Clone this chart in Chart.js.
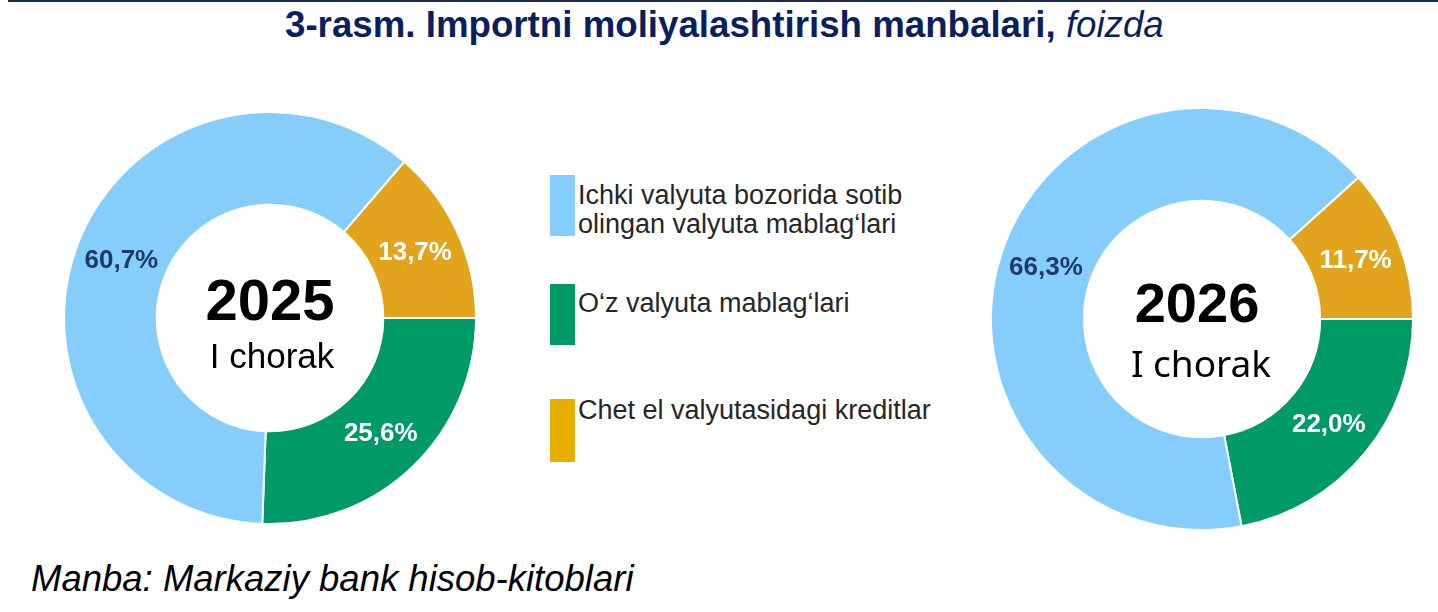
<!DOCTYPE html>
<html>
<head>
<meta charset="utf-8">
<script src="https://cdn.jsdelivr.net/npm/chart.js@4.4.1/dist/chart.umd.min.js"></script>
<style>
    html, body { margin: 0; padding: 0; background: #fff; }
    body { width: 1438px; height: 612px; position: relative; overflow: hidden; font-family: "Liberation Sans", Arial, sans-serif; }
    .top-rule { position: absolute; left: 8px; right: 0; top: 0; height: 2px; background: #1c2b4a; }
    .title { position: absolute; left: 285px; top: 6px; font-size: 36.7px; line-height: 37px; font-weight: bold; color: #0b1f5e; white-space: nowrap; }
    .title i { font-weight: normal; }
    .source { position: absolute; left: 31px; top: 560px; font-size: 36.5px; line-height: 37px; font-style: italic; color: #000; white-space: nowrap; }
    canvas { position: absolute; }
    .legend-item { position: absolute; left: 550px; }
    .legend-box { position: absolute; left: 0; top: 0; width: 25px; }
    .legend-text { position: absolute; left: 28px; width: 390px; font-size: 27px; line-height: 29px; color: #262626; }
</style>
</head>
<body>
<div class="top-rule"></div>
<div class="title">3-rasm. Importni moliyalashtirish manbalari, <i>foizda</i></div>
<canvas id="chart-2025" width="420" height="420" style="left:60px; top:108px;"></canvas>
<canvas id="chart-2026" width="430" height="430" style="left:987px; top:104px;"></canvas>
<div id="legend"></div>
<div class="source">Manba: Markaziy bank hisob-kitoblari</div>

<script>
// segments in drawing order (clockwise from 3 o'clock)
const segmentLabels = [
    "O‘z valyuta mablag‘lari",
    "Ichki valyuta bozorida sotib olingan valyuta mablag‘lari",
    "Chet el valyutasidagi kreditlar"
];
const values2025 = [25.6, 60.7, 13.7];
const values2026 = [22.0, 66.3, 11.7];
const periodLabel = "I chorak";

// legend shows the blue one first
const legendOrder = [1, 0, 2];

const sliceColors = ['#009968', '#85cefc', '#e2a41c'];
const legendColors = ['#009966', '#85cdfd', '#e6ae00'];
const labelColors = ['#ffffff', '#1f3a64', '#ffffff'];

// legend boxes: [top, height] and text top, per legend row
const legendRows = [
    { boxTop: 175, boxH: 61, textTop: 181 },
    { boxTop: 284, boxH: 61, textTop: 289 },
    { boxTop: 399, boxH: 63, textTop: 396 }
];

function buildLegend() {
    const legend = document.getElementById('legend');
    legendOrder.forEach((idx, row) => {
        const r = legendRows[row];
        const item = document.createElement('div');
        item.className = 'legend-item';
        item.style.top = r.boxTop + 'px';
        const box = document.createElement('div');
        box.className = 'legend-box';
        box.style.height = r.boxH + 'px';
        box.style.background = legendColors[idx];
        const text = document.createElement('div');
        text.className = 'legend-text';
        text.style.top = (r.textTop - r.boxTop) + 'px';
        text.textContent = segmentLabels[idx];
        item.appendChild(box);
        item.appendChild(text);
        legend.appendChild(item);
    });
}

const sliceLabelPlugin = {
    id: 'sliceLabels',
    afterDatasetsDraw(chart) {
        const ctx = chart.ctx;
        const meta = chart.getDatasetMeta(0);
        const data = chart.data.datasets[0].data;
        ctx.save();
        ctx.font = 'bold 26px "Liberation Sans", Arial, sans-serif';
        ctx.textAlign = 'center';
        ctx.textBaseline = 'middle';
        meta.data.forEach((arc, i) => {
            const pos = arc.tooltipPosition();
            ctx.fillStyle = labelColors[i];
            ctx.fillText(data[i].toFixed(1).replace('.', ',') + '%', pos.x, pos.y + 1);
        });
        ctx.restore();
    }
};

const centerTextPlugin = {
    id: 'centerText',
    afterDraw(chart, args, opts) {
        const ctx = chart.ctx;
        const arc = chart.getDatasetMeta(0).data[0];
        const cx = arc.x, cy = arc.y;
        ctx.save();
        ctx.textAlign = 'center';
        ctx.textBaseline = 'alphabetic';
        ctx.fillStyle = '#000';
        ctx.font = opts.yearFont;
        ctx.fillText(opts.year, cx + opts.yearDx, cy + opts.yearDy);
        ctx.font = opts.periodFont;
        ctx.fillText(opts.period, cx + opts.periodDx, cy + opts.periodDy);
        ctx.restore();
    }
};

function drawDonut(canvasId, values, cutout, center) {
    const ctx = document.getElementById(canvasId).getContext('2d');
    return new Chart(ctx, {
        type: 'doughnut',
        data: {
            labels: segmentLabels,
            datasets: [{
                data: values,
                backgroundColor: sliceColors,
                borderColor: '#ffffff',
                borderWidth: 2,
                hoverOffset: 0
            }]
        },
        options: {
            responsive: false,
            animation: false,
            rotation: 90,
            cutout: cutout,
            layout: { padding: 3 },
            events: [],
            plugins: {
                legend: { display: false },
                tooltip: { enabled: false },
                centerText: center
            }
        },
        plugins: [sliceLabelPlugin, centerTextPlugin]
    });
}

buildLegend();

drawDonut('chart-2025', values2025, '55%', {
    year: '2025', period: periodLabel,
    yearFont: 'bold 58px "Liberation Sans", Arial, sans-serif',
    periodFont: 'normal 35px "Liberation Sans", Arial, sans-serif',
    yearDx: 0, yearDy: 2, periodDx: 2, periodDy: 50
});

drawDonut('chart-2026', values2026, '56%', {
    year: '2026', period: periodLabel,
    yearFont: 'bold 56px "Liberation Sans", Arial, sans-serif',
    periodFont: 'normal 37px "Noto Sans", sans-serif',
    yearDx: -5, yearDy: 3, periodDx: -1, periodDy: 58
});
</script>
</body>
</html>
